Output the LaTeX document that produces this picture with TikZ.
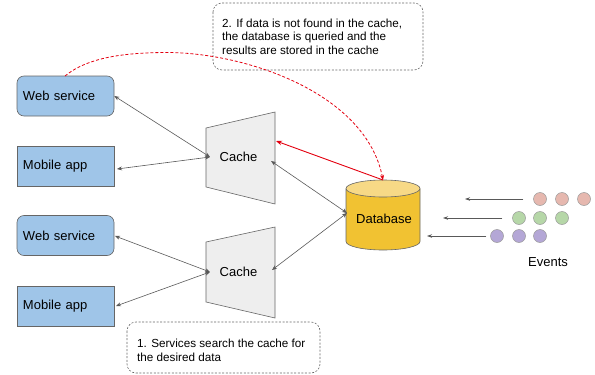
\documentclass[tikz,border=0pt]{standalone}
\usepackage{fontspec}
\setmainfont{Liberation Sans}
\usetikzlibrary{arrows.meta}
\definecolor{svcblue}{HTML}{9FC5E8}
\definecolor{edgegray}{HTML}{666666}
\definecolor{cachefill}{HTML}{EEEEEE}
\definecolor{dbbody}{HTML}{F1C232}
\definecolor{dbtopc}{HTML}{F7D986}
\definecolor{evred}{HTML}{E6B8AF}
\definecolor{evgreen}{HTML}{B6D7A8}
\definecolor{evpurple}{HTML}{B4A7D6}
\definecolor{lnk}{HTML}{595959}
\definecolor{redl}{HTML}{E3000F}
\begin{document}
\begin{tikzpicture}[x=1pt,y=-1pt,
  svc/.style={draw=edgegray, fill=svcblue, line width=0.6pt, minimum width=97pt, minimum height=40pt, inner sep=0pt, text width=85pt, align=left, font=\fontsize{13}{15}\selectfont},
  svcr/.style={svc, rounded corners=7pt},
  link/.style={draw=lnk, line width=0.6pt, {Stealth[length=5pt,width=4pt]}-{Stealth[length=5pt,width=4pt]}},
  cacheshape/.style={draw=edgegray, fill=cachefill, line width=0.6pt},
  lbl/.style={font=\fontsize{13}{15}\selectfont, inner sep=0pt},
  note/.style={draw=edgegray, dash pattern=on 2pt off 1.6pt, rounded corners=9pt, line width=0.6pt},
  notetext/.style={font=\fontsize{11.7}{13.8}\selectfont, align=left, inner sep=0pt, anchor=north west},
  ev/.style={circle, draw=gray!80, line width=0.5pt, minimum size=13pt, inner sep=0pt},
  evarrow/.style={draw=lnk, line width=0.8pt, -{Stealth[length=5pt,width=3.5pt]}}
]
\useasboundingbox (0,0) rectangle (595,375);

% notes
\draw[note] (213,3) rectangle (423,70);
\node[notetext] (n2) at (222,18.5) {2. If data is not found in the cache,\\the database is queried and the\\results are stored in the cache};
\draw[note] (127,322) rectangle (320,373);
\node[notetext] (n1) at (137,339) {1. Services search the cache for\\the desired data};

% services
\node[svcr] (ws1) at (65.5,96) {Web service};
\node[svc] (ma1) at (65.5,166) {Mobile app};
\node[svcr] (ws2) at (65.5,235.5) {Web service};
\node[svc] (ma2) at (65.5,306) {Mobile app};

% caches
\draw[cacheshape] (206,128) -- (275,112) -- (275,204) -- (206,187) -- cycle;
\draw[cacheshape] (206,242) -- (275,227) -- (275,318) -- (206,302) -- cycle;
\node[lbl] (c1) at (238.5,157) {Cache};
\node[lbl] (c2) at (238.5,272) {Cache};

% database
\fill[dbbody] (346,188.5) -- (346,241.5) arc[start angle=180,end angle=0,x radius=37,y radius=8.5] -- (420,188.5) -- cycle;
\draw[edgegray, line width=0.6pt] (346,188.5) -- (346,241.5) arc[start angle=180,end angle=0,x radius=37,y radius=8.5] -- (420,188.5);
\draw[edgegray, fill=dbtopc, line width=0.6pt] (383,188.5) ellipse[x radius=37, y radius=8.5];
\node[lbl] (db) at (384,219) {Database};

% anchor coordinates
\coordinate (ma1e) at (117,169);
\coordinate (ws2e) at (115,236);
\coordinate (ma2e) at (116,306);
\coordinate (c1in) at (210,157);
\coordinate (c1out) at (271,161);
\coordinate (c1red) at (276,141);
\coordinate (c2in) at (210,272);
\coordinate (c2out) at (272,270);
\coordinate (dbin) at (347,213);
\coordinate (dbtop) at (383,180);
\coordinate (ws1top) at (65,76);
\coordinate (peak) at (168,52.5);

% links
\draw[link] (ws1.east) -- (c1in);
\draw[link] (ma1e) -- (c1in);
\draw[link] (ws2e) -- (c2in);
\draw[link] (ma2e) -- (c2in);
\draw[link] (c1out) -- (dbin);
\draw[link] (c2out) -- (dbin);

% red
\draw[redl, line width=0.9pt, -{Stealth[length=6pt,width=4.5pt]}] (dbtop) -- (c1red);
\draw[redl, line width=0.8pt, dash pattern=on 3pt off 2pt, -{Stealth[length=5pt,width=4pt]}] (ws1top) .. controls (88,57) and (126,52.5) .. (peak) .. controls (248,53) and (366,94) .. (dbtop);

% events
\node[ev, fill=evred] (r1) at (540,199) {};
\node[ev, fill=evred] (r2) at (562,199) {};
\node[ev, fill=evred] (r3) at (584,199) {};
\node[ev, fill=evgreen] (g1) at (519,218) {};
\node[ev, fill=evgreen] (g2) at (540,218) {};
\node[ev, fill=evgreen] (g3) at (562,218) {};
\node[ev, fill=evpurple] (p1) at (497,236) {};
\node[ev, fill=evpurple] (p2) at (519,236) {};
\node[ev, fill=evpurple] (p3) at (540,236) {};
\coordinate (ra) at (465,199);
\coordinate (ga) at (443,218);
\coordinate (pa) at (427,236);
\draw[evarrow] ([xshift=-10pt]r1.west) -- (ra);
\draw[evarrow] ([xshift=-10pt]g1.west) -- (ga);
\draw[evarrow] ([xshift=-4pt]p1.west) -- (pa);
\node[lbl] (evl) at (548,262) {Events};
\end{tikzpicture}
\end{document}
